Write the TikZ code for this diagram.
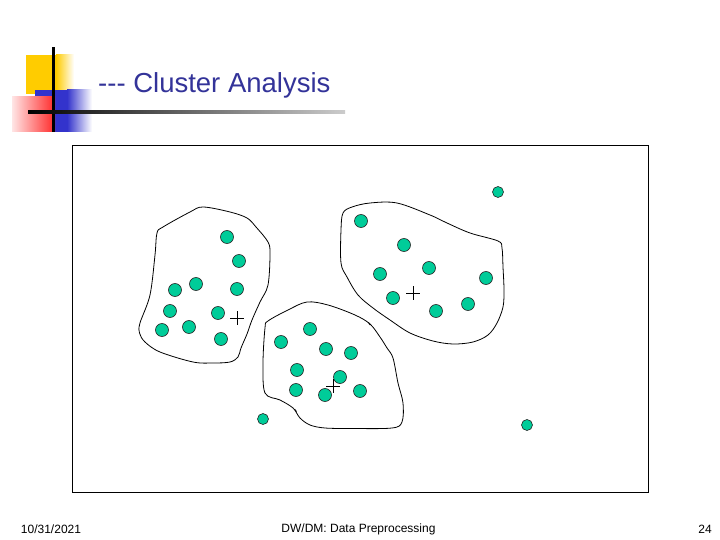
\documentclass[tikz,border=0pt]{standalone}
\usepackage{fontspec}
\newfontfamily\slidefont{Liberation Sans}
\definecolor{titleblue}{RGB}{51,51,153}
\definecolor{ptgreen}{RGB}{0,204,153}
\definecolor{decoyellow}{RGB}{255,204,0}
\definecolor{decoblue}{RGB}{51,51,204}
\definecolor{decored}{RGB}{255,40,40}
\tikzset{
  pt/.style={circle, draw=black!85, fill=ptgreen, line width=0.6pt, inner sep=0pt, minimum size=13pt},
  outlier/.style={pt, minimum size=11pt},
  blob/.style={line width=0.8pt, smooth cycle, tension=0.55},
  centroid/.pic={\draw[line width=0.8pt] (-7,0) -- (7,0) (0,-7) -- (0,7);},
  footertext/.style={font=\slidefont\fontsize{12}{14}\selectfont, inner sep=0pt}
}
\begin{document}
\begin{tikzpicture}[x=1pt, y=-1pt]
  \useasboundingbox[fill=white] (0,0) rectangle (720,540);
  % corner decoration
  \fill[decoyellow] (26,55) rectangle (56,94);
  \shade[left color=decoyellow, right color=white] (56,55) rectangle (74,94);
  \fill[decoblue] (35,90) rectangle (67,132);
  \shade[left color=decoblue, right color=white] (67,90) rectangle (92,132);
  \shade[left color=decored!12, right color=decored] (12,97) rectangle (55,132);
  \fill[black] (51.8,47) rectangle (54.8,132);
  \shade[left color=black, right color=black!20] (28,110.5) rectangle (345,113.5);
  % title
  \node[anchor=base west, inner sep=0pt, text=titleblue,
        font=\slidefont\fontsize{27.5}{30}\selectfont] (title) at (98,93) {--- Cluster Analysis};
  % frame
  \draw[line width=0.9pt] (72,145) rectangle (648,492);
  % cluster outlines
  \draw[blob] plot coordinates {(203,207) (230,212) (247,218) (256,227) (268,242) (270,254)
    (268,285) (260,302) (252,320) (247,334) (241,348) (238,357) (230,362) (213,363)
    (193,362) (160,352) (145,342) (139.5,333) (140,323) (150,295) (155,255) (157,233)
    (163,227) (190,212)};
  \draw[blob] plot coordinates {(343,213) (352,207) (370,203) (397,203) (430,215) (447,223)
    (470,233) (498,241) (502,248) (503,267) (504,290) (503,307) (497,323) (488,335)
    (473,342) (453,344) (433,341) (410,333) (390,320) (373,308) (358,295) (347,277)
    (341,263) (341,230)};
  \draw[blob] plot coordinates {(307,302) (328,305) (355,315) (370,324) (380,337) (387,348)
    (393,358) (398,383) (403,403) (402,422) (392,428) (352,428.5) (325,428) (310,425)
    (300,418) (293,408) (280,400) (265,393) (263,363) (265,328) (268,321) (288,310)};
  \draw[line width=0.8pt] (370,325) -- (368.5,322.3);
  \draw[line width=0.8pt] (294.5,409) -- (296.5,411.5);
  % data points
  \foreach \x/\y [count=\i] in {227/237, 239/261, 175/290, 196/284, 237/289, 170/311,
      218/313, 162/330, 189/327, 221/339,
      361/221, 404/245, 380/274, 429/268, 486/278, 393/298, 436/311, 468/304,
      310/329, 281/342, 326/349, 351/353, 297/370, 340/377, 296/390, 325/395, 360/391}
    \node[pt] (c\i) at (\x,\y) {};
  \foreach \x/\y [count=\i] in {498/192, 263/419, 527/425}
    \node[outlier] (o\i) at (\x,\y) {};
  % cluster centres
  \pic at (237,318) {centroid};
  \pic at (413,293) {centroid};
  \pic at (333,386) {centroid};
  % footer
  \node[footertext] (date) at (51,529) {10/31/2021};
  \node[footertext] (footer) at (358.5,529) {DW/DM: Data Preprocessing};
  \node[footertext] (pagenum) at (705,529) {24};
\end{tikzpicture}
\end{document}
